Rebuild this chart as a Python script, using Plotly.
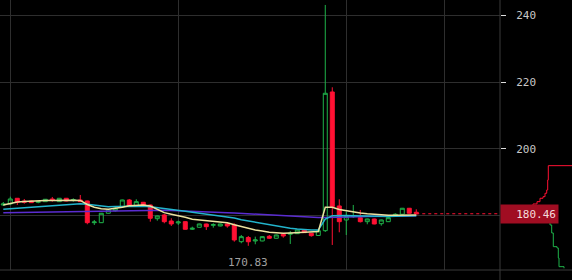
import plotly.graph_objects as go

# ---------------- data ----------------
idx = list(range(60))

opens = [183.10, 183.40, 185.11, 184.30, 184.30, 183.91, 184.09, 184.90, 184.09, 185.11,
         184.51, 184.60, 184.30, 177.78, 177.78, 180.61, 181.39, 182.59, 184.60, 182.89,
         183.91, 183.10, 178.98, 180.10, 178.29, 177.69, 178.08, 175.80, 176.40, 177.39,
         177.00, 176.79, 177.39, 177.09, 172.08, 173.34, 172.29, 172.29, 173.70, 173.10,
         174.30, 174.30, 174.48, 175.59, 174.60, 173.94, 175.38, 217.03, 182.80, 178.59,
         179.59, 179.28, 178.08, 178.89, 177.48, 178.08, 179.80, 180.31, 182.11, 180.91]
highs = [183.99, 185.59, 185.20, 184.90, 184.45, 184.39, 184.90, 185.50, 185.20, 185.20,
         185.11, 186.10, 184.39, 178.59, 180.70, 181.70, 182.59, 184.70, 184.90, 184.81,
         184.00, 183.20, 179.90, 180.40, 179.10, 178.38, 178.20, 176.58, 177.50, 177.50,
         177.60, 177.50, 177.90, 177.60, 174.09, 173.79, 173.58, 173.70, 174.09, 174.20,
         174.40, 175.29, 175.70, 175.70, 174.70, 175.50, 243.16, 218.44, 184.81, 181.09,
         183.10, 181.60, 179.00, 179.00, 178.70, 179.40, 180.61, 182.20, 182.20, 181.81]
lows = [182.80, 183.10, 183.10, 183.49, 183.70, 183.61, 183.99, 184.09, 183.99, 184.20,
        184.09, 183.99, 177.30, 177.09, 177.69, 180.50, 181.09, 182.50, 182.70, 182.80,
        182.85, 178.08, 178.38, 177.60, 176.79, 177.09, 175.70, 175.59, 176.30, 175.59,
        176.28, 176.70, 176.28, 172.08, 171.60, 170.83, 171.30, 172.20, 172.89, 173.00,
        173.28, 171.39, 174.40, 174.70, 173.58, 173.80, 174.99, 171.09, 174.90, 174.09,
        179.19, 177.84, 177.30, 177.30, 176.88, 178.00, 179.49, 180.20, 180.50, 180.25]
closes = [183.40, 184.90, 183.91, 183.91, 183.79, 184.09, 184.81, 184.51, 185.11, 184.30,
          184.69, 184.09, 177.78, 177.99, 180.61, 181.60, 182.11, 184.60, 182.80, 184.09,
          182.95, 179.10, 179.80, 178.08, 177.39, 177.99, 175.80, 176.10, 177.39, 176.58,
          177.18, 177.39, 176.79, 172.59, 173.58, 172.05, 172.59, 173.58, 173.10, 174.09,
          173.79, 174.60, 175.59, 174.78, 173.88, 175.38, 216.64, 182.59, 178.08, 179.59,
          179.80, 178.08, 178.89, 177.39, 178.59, 179.28, 180.31, 182.11, 180.61, 180.46]

ma_fast = [183.10, 183.61, 183.99, 184.15, 184.30, 184.36, 184.42, 184.45, 184.51, 184.54,
           184.51, 184.45, 183.25, 182.41, 181.96, 181.84, 182.05, 182.41, 182.89, 183.04,
           183.10, 182.80, 181.90, 180.79, 180.31, 179.89, 179.40, 178.80, 178.59, 178.38,
           178.20, 178.08, 177.78, 177.18, 176.58, 175.98, 175.59, 175.29, 174.90, 174.78,
           174.60, 174.69, 174.78, 174.90, 174.99, 175.14, 182.41, 182.41, 181.75, 181.36,
           180.99, 180.70, 180.46, 180.25, 180.10, 180.01, 180.01, 180.04, 180.07, 180.10]
ma_mid = [181.81, 181.96, 182.11, 182.26, 182.41, 182.59, 182.74, 182.89, 183.04, 183.19,
          183.34, 183.46, 183.31, 183.01, 182.74, 182.59, 182.65, 182.71, 182.77, 182.80,
          182.74, 182.59, 182.35, 182.11, 181.90, 181.60, 181.21, 180.91, 180.61, 180.40,
          180.04, 179.80, 179.59, 179.19, 178.68, 178.29, 177.90, 177.60, 177.18, 176.79,
          176.40, 176.10, 175.89, 175.68, 175.59, 175.59, 178.89, 179.89, 180.01, 179.95,
          179.89, 179.80, 179.74, 179.68, 179.65, 179.65, 179.68, 179.74, 179.80, 179.86]
ma_slow = [180.79, 180.82, 180.88, 180.91, 180.97, 181.03, 181.09, 181.15, 181.18, 181.24,
           181.27, 181.33, 181.36, 181.39, 181.42, 181.45, 181.48, 181.51, 181.54, 181.54,
           181.54, 181.54, 181.51, 181.48, 181.45, 181.39, 181.36, 181.30, 181.21, 181.12,
           181.03, 180.91, 180.79, 180.67, 180.55, 180.40, 180.25, 180.10, 179.98, 179.86,
           179.77, 179.68, 179.56, 179.47, 179.38, 179.32, 179.35, 179.44, 179.50, 179.53,
           179.56, 179.59, 179.62, 179.65, 179.68, 179.71, 179.74, 179.77, 179.80, 179.83]

# order-book depth (cumulative volume vs price)
ask_vol = [20, 33, 37, 40, 43, 45, 46.7, 47.7, 48.3, 72]
ask_price = [180.90, 183.40, 184.09, 185.11, 185.59, 186.61, 187.60, 190.61, 194.90, 194.90]
bid_vol = [44, 46.7, 50, 51.7, 53.3, 57, 58.3, 59, 64]
bid_price = [180.00, 177.90, 177.09, 174.69, 170.58, 170.19, 167.18, 164.57, 164.09]

y_ticks = [180, 200, 220, 240]
y_tick_text = ["", "200", "220", "240"]   # 180 sits under the last-price box
x_grid = [1, 25, 49, 63]
last_price = 180.46
low_idx = 35
low_price = 170.83

# ---------------- styles ----------------
GREEN = "#1fb34a"
RED = "#ff1133"
YELLOW = "#ebe2a0"
CYAN = "#22b4cc"
PURPLE = "#5a2cd0"
GRID = "#2e2e2e"
AX = 500 / 572

fig = go.Figure()
fig.add_trace(go.Candlestick(
    x=idx, open=opens, high=highs, low=lows, close=closes,
    increasing=dict(line=dict(color=GREEN, width=1), fillcolor="rgba(0,0,0,0)"),
    decreasing=dict(line=dict(color=RED, width=1), fillcolor=RED),
    whiskerwidth=0, hoverinfo="skip", showlegend=False))

for vals, col in [(ma_slow, PURPLE), (ma_mid, CYAN), (ma_fast, YELLOW)]:
    fig.add_trace(go.Scatter(x=idx, y=vals, mode="lines",
                             line=dict(color=col, width=1.5), hoverinfo="skip"))

fig.add_trace(go.Scatter(x=ask_vol, y=ask_price, xaxis="x2", yaxis="y2", mode="lines",
                         line=dict(color=RED, width=1, shape="hv"), hoverinfo="skip"))
fig.add_trace(go.Scatter(x=bid_vol, y=bid_price, xaxis="x2", yaxis="y2", mode="lines",
                         line=dict(color=GREEN, width=1, shape="hv"), hoverinfo="skip"))

fig.update_layout(
    width=572, height=280,
    margin=dict(l=0, r=0, t=0, b=10),
    paper_bgcolor="black", plot_bgcolor="black",
    showlegend=False,
    boxgap=0.43, boxgroupgap=0,
    xaxis=dict(domain=[0, AX], range=[-0.47, 70.96], tickvals=x_grid,
               showticklabels=False, ticks="", showgrid=True, gridcolor=GRID,
               zeroline=False, showline=False, rangeslider=dict(visible=False)),
    yaxis=dict(range=[163.57, 244.65], side="right", anchor="free", position=AX,
               tickvals=y_ticks, ticktext=y_tick_text, ticks="outside", ticklen=5,
               tickcolor="#dddddd",
               showgrid=True, gridcolor=GRID, zeroline=False, showline=False,
               ticklabelstandoff=8,
               tickfont=dict(family="DejaVu Sans Mono", size=11, color="#c8c8c8")),
    xaxis2=dict(domain=[AX, 1], range=[0, 72], visible=False, anchor="y2"),
    yaxis2=dict(matches="y", anchor="x2", visible=False, showgrid=False),
    shapes=[
        dict(type="line", xref="paper", yref="paper", x0=0, x1=1, y0=0, y1=0,
             line=dict(color="#3a3a3a", width=1)),
        dict(type="line", xref="paper", yref="paper", x0=AX, x1=AX, y0=-0.1, y1=1,
             line=dict(color="#3a3a3a", width=1)),
        dict(type="line", xref="x", yref="y", x0=idx[-1], x1=70.96,
             y0=last_price, y1=last_price, line=dict(color=RED, width=1, dash="dot")),
    ],
    annotations=[
        dict(xref="paper", yref="y", x=AX, y=last_price, xanchor="left", yanchor="middle",
             text=f"{last_price:.2f}", showarrow=False, bgcolor="#a00d22",
             width=53, height=14, borderpad=2, align="right",
             font=dict(family="DejaVu Sans Mono", size=11, color="#f4dcdc")),
        dict(xref="x", yref="y", x=low_idx, y=low_price, xanchor="center", yanchor="top",
             yshift=-8, text=f"{low_price:.2f}", showarrow=False,
             font=dict(family="DejaVu Sans Mono", size=11, color="#a0a0a0")),
    ],
)

fig.write_html("out.html")
